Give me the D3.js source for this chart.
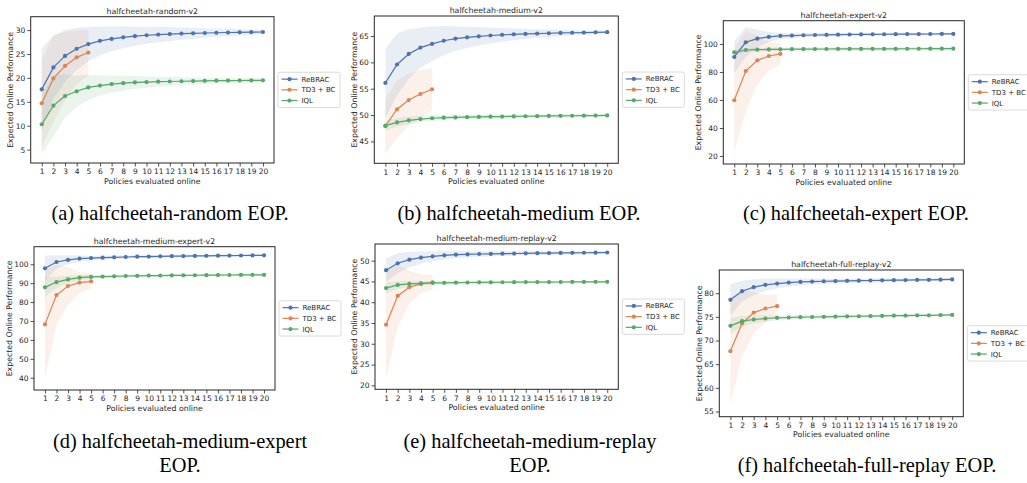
<!DOCTYPE html>
<html lang="en">
<head>
<meta charset="UTF-8">
<title>halfcheetah EOP</title>
<script src="https://cdn.jsdelivr.net/npm/d3@7"></script>
<style>
  body { margin: 0; background: #fff; }
  svg text { font-family: "DejaVu Sans", sans-serif; }
  svg text.caption { font-family: "Liberation Serif", "Times New Roman", serif; fill: #000; }
</style>
</head>
<body>
<div id="chart"></div>
<script>
// x axis: number of policies evaluated online
const policies = [1, 2, 3, 4, 5, 6, 7, 8, 9, 10, 11, 12, 13, 14, 15, 16, 17, 18, 19, 20];
const methods = ["ReBRAC", "TD3 + BC", "IQL"];
const colors = ["#4c72b0", "#dd8452", "#55a868"];

// (a) random
const randomTicks = [5, 10, 15, 20, 25, 30];
const randomRebrac = [17.6, 22.2, 24.6, 26.1, 27.07, 27.75, 28.15, 28.48, 28.72, 28.92, 29.06, 29.17, 29.26, 29.33, 29.39, 29.44, 29.49, 29.53, 29.57, 29.6];
const randomRebracStd = [8.6, 6.6, 5.4, 4.4, 3.6, 3.0, 2.6, 2.3, 2.0, 1.8, 1.6, 1.45, 1.3, 1.15, 1.0, 0.9, 0.8, 0.65, 0.55, 0.45];
const randomTd3 = [14.7, 19.9, 22.5, 24.3, 25.3];
const randomTd3Std = [9.1, 9.0, 7.1, 5.6, 4.7];
const randomIql = [10.3, 14.2, 16.2, 17.2, 18.0, 18.4, 18.7, 18.9, 19.05, 19.12, 19.2, 19.25, 19.3, 19.34, 19.38, 19.41, 19.44, 19.46, 19.48, 19.5];
const randomIqlStd = [6.1, 6.4, 4.5, 3.3, 2.6, 2.1, 1.8, 1.55, 1.35, 1.2, 1.05, 0.95, 0.85, 0.75, 0.65, 0.6, 0.55, 0.5, 0.45, 0.4];

// (b) medium
const mediumTicks = [45, 50, 55, 60, 65];
const mediumRebrac = [56.1, 59.6, 61.6, 62.8, 63.5, 64.1, 64.5, 64.75, 64.94, 65.1, 65.22, 65.32, 65.4, 65.47, 65.53, 65.58, 65.62, 65.66, 65.7, 65.73];
const mediumRebracStd = [6.6, 5.9, 4.7, 3.8, 3.3, 2.75, 2.35, 2.0, 1.75, 1.5, 1.3, 1.1, 0.95, 0.8, 0.7, 0.6, 0.5, 0.4, 0.35, 0.3];
const mediumTd3 = [47.9, 51.1, 52.85, 54.0, 54.9];
const mediumTd3Std = [5.2, 5.4, 5.0, 4.5, 4.0];
const mediumIql = [48.0, 48.6, 49.0, 49.25, 49.4, 49.5, 49.56, 49.61, 49.65, 49.69, 49.72, 49.75, 49.78, 49.8, 49.83, 49.85, 49.87, 49.89, 49.91, 49.93];
const mediumIqlStd = [0.9, 0.8, 0.7, 0.6, 0.55, 0.5, 0.48, 0.46, 0.44, 0.42, 0.4, 0.38, 0.37, 0.36, 0.35, 0.34, 0.33, 0.32, 0.31, 0.3];

// (c) expert
const expertTicks = [20, 40, 60, 80, 100];
const expertRebrac = [90.7, 101.2, 103.8, 105.0, 105.7, 106.0, 106.2, 106.4, 106.55, 106.65, 106.75, 106.82, 106.88, 106.93, 106.98, 107.02, 107.06, 107.1, 107.14, 107.18];
const expertRebracStd = [11.2, 10.7, 6.4, 3.6, 2.2, 1.8, 1.6, 1.5, 1.4, 1.3, 1.25, 1.2, 1.15, 1.1, 1.05, 1.0, 0.95, 0.9, 0.85, 0.8];
const expertTd3 = [59.8, 80.7, 88.3, 91.4, 92.9];
const expertTd3Std = [36.5, 28.8, 17.3, 10.2, 7.5];
const expertIql = [94.0, 95.7, 95.95, 96.1, 96.2, 96.27, 96.32, 96.36, 96.4, 96.43, 96.46, 96.48, 96.5, 96.52, 96.54, 96.56, 96.58, 96.6, 96.62, 96.64];
const expertIqlStd = [1.6, 1.4, 1.3, 1.3, 1.3, 1.3, 1.3, 1.3, 1.3, 1.3, 1.3, 1.3, 1.3, 1.3, 1.3, 1.3, 1.3, 1.3, 1.3, 1.3];

// (d) medium-expert
const medExpTicks = [40, 50, 60, 70, 80, 90, 100];
const medExpRebrac = [97.9, 101.2, 102.3, 103.0, 103.3, 103.5, 103.7, 103.85, 104.0, 104.1, 104.2, 104.28, 104.35, 104.42, 104.48, 104.54, 104.6, 104.65, 104.7, 104.75];
const medExpRebracStd = [6.7, 3.4, 2.3, 1.6, 1.2, 1.0, 0.9, 0.85, 0.8, 0.78, 0.75, 0.72, 0.7, 0.68, 0.66, 0.64, 0.62, 0.6, 0.6, 0.6];
const medExpTd3 = [68.2, 83.7, 88.5, 90.3, 91.0];
const medExpTd3Std = [28.6, 15.9, 10.0, 5.5, 3.8];
const medExpIql = [87.8, 90.6, 92.0, 92.9, 93.3, 93.5, 93.65, 93.8, 93.9, 94.0, 94.05, 94.1, 94.15, 94.2, 94.25, 94.3, 94.33, 94.36, 94.4, 94.43];
const medExpIqlStd = [5.3, 3.0, 1.8, 1.3, 1.0, 0.9, 0.85, 0.8, 0.78, 0.76, 0.74, 0.72, 0.7, 0.7, 0.7, 0.7, 0.7, 0.7, 0.7, 0.7];

// (e) medium-replay
const medRepTicks = [20, 25, 30, 35, 40, 45, 50];
const medRepRebrac = [47.7, 49.36, 50.24, 50.72, 51.04, 51.28, 51.44, 51.52, 51.6, 51.64, 51.68, 51.72, 51.76, 51.8, 51.82, 51.85, 51.88, 51.9, 51.92, 51.95];
const medRepRebracStd = [2.9, 2.4, 1.9, 1.5, 1.2, 1.0, 0.85, 0.75, 0.68, 0.6, 0.56, 0.52, 0.49, 0.46, 0.44, 0.42, 0.4, 0.38, 0.36, 0.35];
const medRepTd3 = [34.6, 41.5, 43.6, 44.4, 44.8];
const medRepTd3Std = [12.9, 7.4, 3.9, 2.3, 1.75];
const medRepIql = [43.4, 44.15, 44.4, 44.55, 44.63, 44.67, 44.7, 44.74, 44.77, 44.79, 44.8, 44.82, 44.83, 44.84, 44.85, 44.86, 44.87, 44.88, 44.89, 44.9];
const medRepIqlStd = [1.3, 0.9, 0.7, 0.55, 0.5, 0.45, 0.42, 0.4, 0.38, 0.36, 0.35, 0.34, 0.33, 0.32, 0.31, 0.3, 0.3, 0.3, 0.3, 0.3];

// (f) full-replay
const fullRepTicks = [55, 60, 65, 70, 75, 80];
const fullRepRebrac = [78.6, 80.42, 81.27, 81.76, 82.04, 82.25, 82.38, 82.46, 82.52, 82.57, 82.61, 82.65, 82.68, 82.71, 82.74, 82.77, 82.8, 82.83, 82.86, 82.9];
const fullRepRebracStd = [3.3, 2.2, 1.7, 1.3, 1.05, 0.85, 0.72, 0.62, 0.56, 0.5, 0.46, 0.43, 0.4, 0.38, 0.36, 0.34, 0.32, 0.31, 0.3, 0.3];
const fullRepTd3 = [67.75, 73.6, 75.9, 76.76, 77.25];
const fullRepTd3Std = [11.35, 7.0, 4.35, 2.9, 2.4];
const fullRepIql = [73.1, 74.08, 74.44, 74.65, 74.8, 74.86, 74.93, 74.97, 75.0, 75.05, 75.1, 75.13, 75.17, 75.2, 75.24, 75.27, 75.3, 75.33, 75.37, 75.4];
const fullRepIqlStd = [1.6, 1.1, 0.8, 0.65, 0.55, 0.5, 0.46, 0.43, 0.4, 0.38, 0.36, 0.35, 0.34, 0.33, 0.32, 0.31, 0.3, 0.3, 0.3, 0.3];

// layout of each subplot: frame [left, top, right, bottom], y limits, caption lines
const panels = [
  { title: "halfcheetah-random-v2", frame: [30.7, 16.7, 274, 163], ylim: [2.2, 32.8], ticks: randomTicks,
    means: [randomRebrac, randomTd3, randomIql], stds: [randomRebracStd, randomTd3Std, randomIqlStd],
    caption: ["(a) halfcheetah-random EOP."], capX: 170, capY: 220 },
  { title: "halfcheetah-medium-v2", frame: [374.3, 16, 618.3, 163.3], ylim: [40.85, 68.8], ticks: mediumTicks,
    means: [mediumRebrac, mediumTd3, mediumIql], stds: [mediumRebracStd, mediumTd3Std, mediumIqlStd],
    caption: ["(b) halfcheetah-medium EOP."], capX: 519, capY: 220 },
  { title: "halfcheetah-expert-v2", frame: [723.3, 20.7, 964.3, 164], ylim: [14.3, 116.6], ticks: expertTicks,
    means: [expertRebrac, expertTd3, expertIql], stds: [expertRebracStd, expertTd3Std, expertIqlStd],
    caption: ["(c) halfcheetah-expert EOP."], capX: 856, capY: 220 },
  { title: "halfcheetah-medium-expert-v2", frame: [34, 246.7, 275, 390], ylim: [33.5, 109.3], ticks: medExpTicks,
    means: [medExpRebrac, medExpTd3, medExpIql], stds: [medExpRebracStd, medExpTd3Std, medExpIqlStd],
    caption: ["(d) halfcheetah-medium-expert", "EOP."], capX: 180, capY: 448 },
  { title: "halfcheetah-medium-replay-v2", frame: [375, 244, 618.3, 389.3], ylim: [19.05, 54.0], ticks: medRepTicks,
    means: [medRepRebrac, medRepTd3, medRepIql], stds: [medRepRebracStd, medRepTd3Std, medRepIqlStd],
    caption: ["(e) halfcheetah-medium-replay", "EOP."], capX: 530, capY: 448 },
  { title: "halfcheetah-full-replay-v2", frame: [719.3, 270, 963.3, 416.7], ylim: [53.9, 84.9], ticks: fullRepTicks,
    means: [fullRepRebrac, fullRepTd3, fullRepIql], stds: [fullRepRebracStd, fullRepTd3Std, fullRepIqlStd],
    caption: ["(f) halfcheetah-full-replay EOP."], capX: 867, capY: 472 }
];

const svg = d3.select("#chart").append("svg").attr("width", 1027).attr("height", 483);
const ink = "#262626";

panels.forEach((p, pi) => {
  const [L, T, R, B] = p.frame;
  const x = d3.scaleLinear().domain([0.05, 20.95]).range([L, R]);
  const y = d3.scaleLinear().domain(p.ylim).range([B, T]);
  const g = svg.append("g");

  svg.append("clipPath").attr("id", "clip" + pi)
    .append("rect").attr("x", L).attr("y", T).attr("width", R - L).attr("height", B - T);
  const plot = g.append("g").attr("clip-path", `url(#clip${pi})`);

  // std bands first
  p.means.forEach((m, si) => {
    const pts = m.map((v, i) => ({ x: policies[i], lo: v - p.stds[si][i], hi: v + p.stds[si][i] }));
    plot.append("path").datum(pts)
      .attr("d", d3.area().x(d => x(d.x)).y0(d => y(d.lo)).y1(d => y(d.hi)))
      .attr("fill", colors[si]).attr("fill-opacity", 0.12);
  });

  // lines with markers
  p.means.forEach((m, si) => {
    const pts = m.map((v, i) => ({ x: policies[i], v }));
    plot.append("path").datum(pts)
      .attr("d", d3.line().x(d => x(d.x)).y(d => y(d.v)))
      .attr("fill", "none").attr("stroke", colors[si]).attr("stroke-width", 1.2);
    plot.selectAll(null).data(pts).enter().append("circle")
      .attr("cx", d => x(d.x)).attr("cy", d => y(d.v)).attr("r", 2.1)
      .attr("fill", colors[si]);
  });

  // axes
  const xAxis = g.append("g").attr("transform", `translate(0,${B})`)
    .call(d3.axisBottom(x).tickValues(policies).tickSize(3.5).tickPadding(2.5));
  const yAxis = g.append("g").attr("transform", `translate(${L},0)`)
    .call(d3.axisLeft(y).tickValues(p.ticks).tickSize(3.5).tickPadding(2));
  [xAxis, yAxis].forEach(a => {
    a.attr("font-family", null).attr("font-size", null).style("color", ink);
    a.select(".domain").remove();
    a.selectAll("line").attr("stroke-width", 0.8);
    a.selectAll("text").style("font-size", "7.5px");
  });

  g.append("rect").attr("x", L).attr("y", T).attr("width", R - L).attr("height", B - T)
    .attr("fill", "none").attr("stroke", ink).attr("stroke-width", 1);

  g.append("text").attr("x", (L + R) / 2).attr("y", T - 3).attr("text-anchor", "middle")
    .style("font-size", "7.8px").attr("fill", ink).text(p.title);
  g.append("text").attr("x", (L + R) / 2).attr("y", B + 20.5).attr("text-anchor", "middle")
    .style("font-size", "7.8px").attr("fill", ink).text("Policies evaluated online");

  let tickW = 0;
  yAxis.selectAll("text").each(function () { tickW = Math.max(tickW, this.getComputedTextLength()); });
  const yl = L - 5.5 - tickW - 2.5, ym = (T + B) / 2;
  g.append("text").attr("transform", `translate(${yl},${ym}) rotate(-90)`).attr("text-anchor", "middle")
    .style("font-size", "7.8px").attr("fill", ink).text("Expected Online Performance");

  // legend, centred vertically at right of the axes
  const lg = g.append("g");
  const box = lg.append("rect");
  let textW = 0;
  methods.forEach((name, si) => {
    const ey = ym - 10.7 + si * 10.7;
    lg.append("line").attr("x1", R + 7.5).attr("x2", R + 23.5).attr("y1", ey).attr("y2", ey)
      .attr("stroke", colors[si]).attr("stroke-width", 1.2);
    lg.append("circle").attr("cx", R + 15.5).attr("cy", ey).attr("r", 2.1).attr("fill", colors[si]);
    const t = lg.append("text").attr("x", R + 27.5).attr("y", ey).attr("dy", "0.35em")
      .style("font-size", "7px").attr("fill", ink).text(name);
    textW = Math.max(textW, t.node().getComputedTextLength());
  });
  box.attr("x", R + 4).attr("y", ym - 17.6).attr("width", 23.5 + textW + 4.5).attr("height", 35.3)
    .attr("rx", 2).attr("fill", "#fff").attr("fill-opacity", 0.8).attr("stroke", "#d0d0d0").attr("stroke-width", 0.8);

  // caption under the subfigure
  p.caption.forEach((line, li) => {
    svg.append("text").attr("class", "caption").attr("x", p.capX).attr("y", p.capY + li * 24)
      .attr("text-anchor", "middle").style("font-size", "20.4px").text(line);
  });
});
</script>
</body>
</html>
